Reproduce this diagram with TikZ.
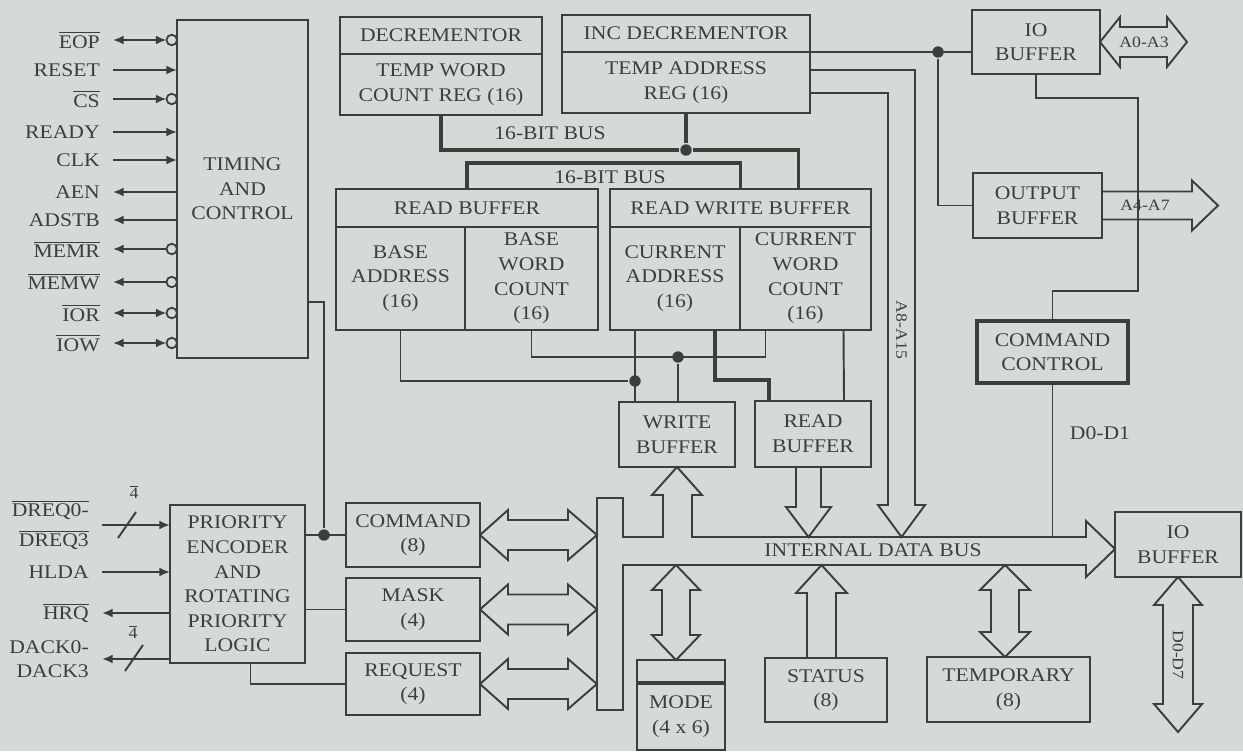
\documentclass[tikz,border=0pt]{standalone}
\usepackage{fontspec}
\setmainfont{Liberation Serif}[FakeStretch=1.12]
\usetikzlibrary{positioning,calc,arrows.meta}
\definecolor{paper}{RGB}{214,218,215}
\definecolor{ink}{RGB}{60,62,62}
\newcommand{\blkfont}{\fontsize{11}{14}\selectfont}
\newcommand{\tinyfont}{\fontsize{9}{10}\selectfont}
\newcommand{\ovl}[1]{$\overline{\mbox{#1}}$}
\tikzset{blk/.style={draw=ink, line width=1.2pt, inner sep=0pt, outer sep=0pt, align=center, font=\blkfont, text=ink},
  bub/.style={circle, draw=ink, line width=1pt, fill=paper, inner sep=0pt, outer sep=0pt, minimum size=6pt},
  dot/.style={circle, fill=ink, inner sep=0pt, minimum size=6.5pt},
  sig/.style={anchor=east, inner xsep=7pt, inner ysep=0pt, font=\blkfont, text=ink, align=right},
  txt/.style={font=\blkfont, text=ink, inner sep=0pt},
  small/.style={font=\tinyfont, text=ink, inner sep=0pt},
  bus/.style={draw=ink, line width=2.2pt},
  fat/.style={draw=ink, line width=1.1pt, line join=miter}}

\begin{document}
\begin{tikzpicture}[x=0.02cm, y=-0.02cm, color=ink, line width=1.1pt, >={Latex[length=6pt,width=5pt]}, node distance=0pt]
\path[fill=paper, use as bounding box] (0,0) rectangle (1243,751);

% timing and control with its pins
\node[blk, minimum width=2.62cm, minimum height=6.76cm] (timing) at (242.5,189) {TIMING\\AND\\CONTROL};

\node[sig] (lEOP) at (113,40) {\ovl{EOP}};
\node[sig] (lRESET) at (113,70) {RESET};
\node[sig] (lCS) at (113,99) {\ovl{CS}};
\node[sig] (lREADY) at (113,132) {READY};
\node[sig] (lCLK) at (113,160) {CLK};
\node[sig] (lAEN) at (113,192) {AEN};
\node[sig] (lADSTB) at (113,220) {ADSTB};
\node[sig] (lMEMR) at (113,249) {\ovl{MEMR}};
\node[sig] (lMEMW) at (113,282) {\ovl{MEMW}};
\node[sig] (lIOR) at (113,313) {\ovl{IOR}};
\node[sig] (lIOW) at (113,343) {\ovl{IOW}};

\node[bub, anchor=east] (bEOP) at (lEOP -| timing.west) {};
\node[bub, anchor=east] (bCS) at (lCS -| timing.west) {};
\node[bub, anchor=east] (bMEMR) at (lMEMR -| timing.west) {};
\node[bub, anchor=east] (bMEMW) at (lMEMW -| timing.west) {};
\node[bub, anchor=east] (bIOR) at (lIOR -| timing.west) {};
\node[bub, anchor=east] (bIOW) at (lIOW -| timing.west) {};

\draw[<->] (lEOP) -- (bEOP);
\draw[->] (lRESET) -- (lRESET -| timing.west);
\draw[->] (lCS) -- (bCS);
\draw[->] (lREADY) -- (lREADY -| timing.west);
\draw[->] (lCLK) -- (lCLK -| timing.west);
\draw[<-] (lAEN) -- (lAEN -| timing.west);
\draw[<-] (lADSTB) -- (lADSTB -| timing.west);
\draw[<-] (lMEMR) -- (bMEMR);
\draw[<-] (lMEMW) -- (bMEMW);
\draw[<->] (lIOR) -- (bIOR);
\draw[<->] (lIOW) -- (bIOW);

% temporary registers
\node[blk, minimum width=4.04cm, minimum height=0.74cm] (decH) at (441,35.5) {DECREMENTOR};
\node[blk, minimum width=4.04cm, minimum height=1.22cm, below=of decH] (decB) {TEMP WORD\\COUNT REG (16)};
\node[blk, minimum width=4.96cm, minimum height=0.74cm] (incH) at (686,33.5) {INC DECREMENTOR};
\node[blk, minimum width=4.96cm, minimum height=1.22cm, below=of incH] (incB) {TEMP ADDRESS\\REG (16)};

% base and current registers
\node[blk, minimum width=5.24cm, minimum height=0.76cm] (rdH) at (467,208) {READ BUFFER};
\node[blk, minimum width=2.58cm, minimum height=2.06cm, anchor=north west] (rdA) at (rdH.south west) {BASE\\ADDRESS\\(16)};
\node[blk, minimum width=2.66cm, minimum height=2.06cm, anchor=north west] (rdW) at (rdA.north east) {BASE\\WORD\\COUNT\\(16)};
\node[blk, minimum width=5.22cm, minimum height=0.76cm] (rwH) at (740.5,208) {READ WRITE BUFFER};
\node[blk, minimum width=2.6cm, minimum height=2.06cm, anchor=north west] (rwA) at (rwH.south west) {CURRENT\\ADDRESS\\(16)};
\node[blk, minimum width=2.62cm, minimum height=2.06cm, anchor=north west] (rwW) at (rwA.north east) {CURRENT\\WORD\\COUNT\\(16)};

\node[dot] (dBus) at (686,150) {};
\draw[bus] (decB.south) |- (dBus);
\draw[bus] (incB.south) -- (dBus);
\draw[bus] (dBus) -| ($(rwH.north)+(58,0)$);
\draw[bus] (rdH.north) -- ++(0,-26) -| (rwH.north);
\node[txt] (tBus1) at (550,133) {16-BIT BUS};
\node[txt] (tBus2) at (610,177) {16-BIT BUS};

\node[blk, minimum width=2.32cm, minimum height=1.3cm] (wrbuf) at (677,434.5) {WRITE\\BUFFER};
\node[blk, minimum width=2.32cm, minimum height=1.32cm] (rdsm) at (813,434) {READ\\BUFFER};

\node[dot] (dCA) at (635,381) {};
\node[dot] (dWC) at (678,357) {};
\draw (rdA.south) |- (dCA);
\draw (dCA |- rwA.south) -- (dCA |- wrbuf.north);
\draw (rdW.south) |- ($(rwW.south)+(-40,27)$) -- ($(rwW.south)+(-40,0)$);
\draw (dWC) -- (dWC |- wrbuf.north);
\draw[bus, line width=1.8pt] ($(rwA.south)+(40,0)$) |- ($(rdsm.north)+(-44,-21)$) -- ($(rdsm.north)+(-44,0)$);
\draw ($(rwW.south)+(38,0)$) -- ($(rdsm.north)+(31,0)$);

% address side
\node[blk, minimum width=2.56cm, minimum height=1.28cm] (iobufa) at (1036,42) {IO\\BUFFER};
\node[blk, minimum width=2.58cm, minimum height=1.3cm] (outbuf) at (1037.5,205.5) {OUTPUT\\BUFFER};
\node[blk, line width=1.9pt, minimum width=3.02cm, minimum height=1.24cm] (cmdctl) at (1052.5,352) {COMMAND\\CONTROL};

\node[dot] (dAdr) at (938,52) {};
\draw (incH.south east) -- (iobufa.west |- incH.south east);
\draw (dAdr) |- (outbuf.west);

\draw[fat] (iobufa.east) -- ++(20,-25) -- ++(0,10) -- ++(47,0) -- ++(0,-10) -- ++(20,25) -- ++(-20,25) -- ++(0,-10) -- ++(-47,0) -- ++(0,10) -- cycle;
\node[small] (tA03) at (1144,42) {A0-A3};
\draw[fat] ($(outbuf.east)+(0,-14)$) -- ++(90,0) -- ++(0,-11) -- ++(26,25) -- ++(-26,25) -- ++(0,-11) -- ++(-90,0);
\node[small] (tA47) at (1145,205) {A4-A7};

\draw (iobufa.south) -- ++(0,24) -| ($(cmdctl.north east)+(10,-30)$) -| (cmdctl.north);
\coordinate (busT) at (0,537);
\draw (cmdctl.south) -- (cmdctl.south |- busT);
\node[txt] (tD01) at (1100,433) {D0-D1};

\draw[fat] (810,70) -- (915,70) -- (915,505) -- (925,505) -- (901.5,537) -- (878,505) -- (888,505) -- (888,93) -- (810,93);
\node[small, rotate=-90] (tA815) at (901.5,330) {A8-A15};

% internal data bus
\draw[fat] (623,537) -- (623,498) -- (597,498) -- (597,710) -- (623,710) -- (623,565) -- (1086,565) -- (1086,577) -- (1115,549) -- (1086,521) -- (1086,537) -- (692,537) -- (692,495) -- (702,495) -- (677,467) -- (652,495) -- (663,495) -- (663,537) -- cycle;
\node[txt] (tIDB) at (873,550) {INTERNAL DATA BUS};
\draw[fat] (796,467) -- (796,507) -- (786,507) -- (808.5,537) -- (831,507) -- (821,507) -- (821,467);

% priority logic and its registers
\node[blk, minimum width=2.7cm, minimum height=3.16cm] (prio) at (237.5,584) {PRIORITY\\ENCODER\\AND\\ROTATING\\PRIORITY\\LOGIC};
\node[blk, minimum width=2.68cm, minimum height=1.28cm] (cmd) at (413,535) {COMMAND\\(8)};
\node[blk, minimum width=2.68cm, minimum height=1.26cm, below=0.22cm of cmd] (mask) {MASK\\(4)};
\node[blk, minimum width=2.68cm, minimum height=1.24cm, below=0.24cm of mask] (req) {REQUEST\\(4)};

\foreach \b in {cmd,mask,req}
  \draw[fat] (\b.east) -- ++(28,-25) -- ++(0,10) -- ++(60,0) -- ++(0,-10) -- ++(29,25) -- ++(-29,25) -- ++(0,-10) -- ++(-60,0) -- ++(0,10) -- cycle;

\node[dot] (dCmd) at (324,535) {};
\draw (prio.east |- cmd.west) -- (cmd.west);
\draw ($(timing.south east)+(0,-56)$) -| (dCmd);
\draw (prio.east |- mask.west) -- (mask.west);
\draw ($(prio.south)+(13,0)$) |- (req.west);

\node[sig] (lDREQ) at (102,525) {\ovl{DREQ0-}\\[3pt]\ovl{DREQ3}};
\node[sig] (lHLDA) at (102,572) {HLDA};
\node[sig] (lHRQ) at (102,613) {\ovl{HRQ}};
\node[sig] (lDACK) at (102,659) {DACK0-\\DACK3};
\draw[->] (lDREQ) -- (lDREQ -| prio.west);
\draw[->] (lHLDA) -- (lHLDA -| prio.west);
\draw[<-] (lHRQ) -- (lHRQ -| prio.west);
\draw[<-] (lDACK) -- (lDACK -| prio.west);
\draw ($(lDREQ.east)+(16,13)$) -- ++(18,-26);
\draw ($(lDACK.east)+(23,12)$) -- ++(18,-26);
\node[small] (nDREQ) at (134,492) {\ovl{4}};
\node[small] (nDACK) at (133,632) {\ovl{4}};

% mode, status, temporary
\node[blk, minimum width=1.76cm, minimum height=0.46cm] (modeH) at (681,671.5) {};
\node[blk, minimum width=1.76cm, minimum height=1.34cm, below=of modeH] (modeB) {MODE\\(4 x 6)};
\draw[line width=1.9pt] (modeH.south west) -- (modeH.south east);
\draw[fat] (676,565) -- (700,590) -- (690,590) -- (690,635) -- (700,635) -- (676,660) -- (652,635) -- (662,635) -- (662,590) -- (652,590) -- cycle;

\node[blk, minimum width=2.44cm, minimum height=1.28cm] (status) at (826,690) {STATUS\\(8)};
\draw[fat] (807,658) -- (807,593) -- (796,593) -- (821.5,565) -- (847,593) -- (836,593) -- (836,658);

\node[blk, minimum width=3.26cm, minimum height=1.3cm] (temp) at (1008.5,689.5) {TEMPORARY\\(8)};
\draw[fat] (1005,565) -- (1030,590) -- (1019,590) -- (1019,632) -- (1030,632) -- (1005,657) -- (980,632) -- (991,632) -- (991,590) -- (980,590) -- cycle;

\node[blk, minimum width=2.52cm, minimum height=1.3cm] (iobufb) at (1178,544.5) {IO\\BUFFER};
\draw[fat] (1178,577) -- (1202,605) -- (1193,605) -- (1193,704) -- (1202,704) -- (1178,732) -- (1154,704) -- (1163,704) -- (1163,605) -- (1154,605) -- cycle;
\node[small, rotate=-90] (tD07) at (1178,655) {D0-D7};
\end{tikzpicture}
\end{document}
